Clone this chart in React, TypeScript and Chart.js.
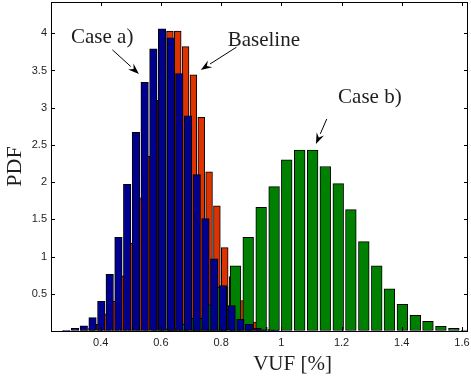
import React, { useEffect, useRef } from 'react';
import { Chart, registerables } from 'chart.js';

Chart.register(...registerables);

// ---- data ----
// Case a) (blue)
const caseAX = [0.286, 0.315, 0.344, 0.373, 0.402, 0.430, 0.459, 0.488, 0.517, 0.546, 0.575, 0.604, 0.633, 0.661, 0.690, 0.719, 0.748, 0.777, 0.806, 0.835, 0.864, 0.892, 0.921, 0.950, 0.979];
const caseAY = [0.005, 0.036, 0.07, 0.18, 0.40, 0.76, 1.26, 1.97, 2.67, 3.34, 3.79, 4.06, 3.94, 3.46, 2.89, 2.10, 1.51, 0.97, 0.61, 0.34, 0.157, 0.09, 0.036, 0.015, 0.005];
// Baseline (red)
const baseX = [0.345, 0.371, 0.397, 0.423, 0.449, 0.475, 0.501, 0.527, 0.553, 0.579, 0.604, 0.630, 0.656, 0.682, 0.708, 0.734, 0.760, 0.786, 0.812, 0.838, 0.864, 0.890, 0.916, 0.942, 0.968];
const baseY = [0.01, 0.04, 0.09, 0.23, 0.40, 0.74, 1.18, 1.79, 2.35, 3.10, 3.70, 4.03, 4.03, 3.82, 3.44, 2.87, 2.14, 1.68, 1.12, 0.73, 0.41, 0.22, 0.12, 0.05, 0.02];
// Case b) (green)
const caseBX = [0.592, 0.635, 0.677, 0.720, 0.763, 0.805, 0.848, 0.890, 0.933, 0.976, 1.018, 1.061, 1.104, 1.146, 1.189, 1.231, 1.274, 1.317, 1.359, 1.402, 1.445, 1.487, 1.530, 1.573, 1.615];
const caseBY = [0.01, 0.03, 0.09, 0.17, 0.35, 0.59, 0.875, 1.26, 1.66, 1.94, 2.30, 2.43, 2.43, 2.21, 1.98, 1.63, 1.20, 0.875, 0.567, 0.357, 0.21, 0.13, 0.063, 0.036, 0.012];

const xTicks = [0.4, 0.6, 0.8, 1, 1.2, 1.4, 1.6];
const yTicks = [0, 0.5, 1, 1.5, 2, 2.5, 3, 3.5, 4];
const xLimits = [0.235, 1.62];
const yLimits = [0, 4.42];

const xTitle = 'VUF [%]';
const yTitle = 'PDF';

// annotation labels (data coordinates)
const labels = [
  { text: 'Case a)', at: [0.405, 3.864], from: [0.439, 3.777], to: [0.527, 3.454] },
  { text: 'Baseline', at: [0.942, 3.824], from: [0.851, 3.813], to: [0.7325, 3.508] },
  { text: 'Case b)', at: [1.294, 3.06], from: [1.151, 2.849], to: [1.115, 2.513] },
];

const toPoints = (xs: number[], ys: number[]) => xs.map((x, i) => ({ x, y: ys[i] }));

const SERIF = '"Liberation Serif", "DejaVu Serif", serif';
const SANS = '"Liberation Sans", Arial, sans-serif';
const TEXT = '#1e1e1e';

const framePlugin = {
  id: 'frame',
  afterDatasetsDraw(chart: any) {
    const { ctx, chartArea, scales } = chart;
    const { left, right, top, bottom } = chartArea;
    const x = scales.x;
    const y = scales.y;
    ctx.save();
    ctx.strokeStyle = '#000';
    ctx.lineWidth = 1;
    ctx.beginPath();
    for (const v of xTicks) {
      const px = Math.round(x.getPixelForValue(v)) + 0.5;
      ctx.moveTo(px, bottom);
      ctx.lineTo(px, bottom - 4);
      ctx.moveTo(px, top);
      ctx.lineTo(px, top + 4);
    }
    for (const v of yTicks) {
      const py = Math.round(y.getPixelForValue(v)) + 0.5;
      ctx.moveTo(left, py);
      ctx.lineTo(left + 4, py);
      ctx.moveTo(right, py);
      ctx.lineTo(right - 4, py);
    }
    ctx.stroke();
    ctx.strokeRect(left + 0.5, top + 0.5, right - left - 1, bottom - top);

    // annotations
    ctx.fillStyle = TEXT;
    ctx.font = `21px ${SERIF}`;
    ctx.textAlign = 'center';
    ctx.textBaseline = 'alphabetic';
    for (const l of labels) {
      ctx.fillText(l.text, x.getPixelForValue(l.at[0]), y.getPixelForValue(l.at[1]));
      const x0 = x.getPixelForValue(l.from[0]);
      const y0 = y.getPixelForValue(l.from[1]);
      const x1 = x.getPixelForValue(l.to[0]);
      const y1 = y.getPixelForValue(l.to[1]);
      const ang = Math.atan2(y1 - y0, x1 - x0);
      const hl = 11;
      const hw = 4;
      const bx = x1 - hl * Math.cos(ang);
      const by = y1 - hl * Math.sin(ang);
      ctx.strokeStyle = '#000';
      ctx.lineWidth = 1;
      ctx.beginPath();
      ctx.moveTo(x0, y0);
      ctx.lineTo(bx, by);
      ctx.stroke();
      ctx.fillStyle = '#000';
      ctx.beginPath();
      ctx.moveTo(x1, y1);
      ctx.lineTo(bx + hw * Math.sin(ang), by - hw * Math.cos(ang));
      ctx.lineTo(bx + 0.35 * hl * Math.cos(ang), by + 0.35 * hl * Math.sin(ang));
      ctx.lineTo(bx - hw * Math.sin(ang), by + hw * Math.cos(ang));
      ctx.closePath();
      ctx.fill();
      ctx.fillStyle = TEXT;
    }

    // x-axis title
    ctx.font = `21px ${SERIF}`;
    ctx.fillText(xTitle, (left + right) / 2 + 33, 370);
    ctx.restore();
  },
};

export default function App() {
  const ref = useRef<HTMLCanvasElement | null>(null);
  useEffect(() => {
    if (!ref.current) return;
    const barCommon = {
      borderColor: '#000000',
      borderWidth: 1,
      borderSkipped: false,
      grouped: false,
    };
    const chart = new Chart(ref.current, {
      type: 'bar',
      data: {
        datasets: [
          { ...barCommon, label: 'Case a)', data: toPoints(caseAX, caseAY), backgroundColor: '#00008f', barThickness: 7.5, order: 1 },
          { ...barCommon, label: 'Case b)', data: toPoints(caseBX, caseBY), backgroundColor: '#008000', barThickness: 10.7, order: 2 },
          { ...barCommon, label: 'Baseline', data: toPoints(baseX, baseY), backgroundColor: '#dd3300', barThickness: 6.8, order: 3 },
        ] as any,
      },
      options: {
        animation: false,
        responsive: false,
        devicePixelRatio: 1,
        datasets: { bar: { grouped: false } } as any,
        layout: { padding: { top: 2, right: 3, left: 0, bottom: 0 } },
        plugins: { legend: { display: false }, tooltip: { enabled: false } },
        scales: {
          x: {
            type: 'linear',
            min: xLimits[0],
            max: xLimits[1],
            offset: false,
            grid: { display: true, drawOnChartArea: false, drawTicks: false },
            border: { display: false },
            afterBuildTicks: (s: any) => { s.ticks = xTicks.map((v) => ({ value: v })); },
            afterFit: (s: any) => {
              s.height = 49;
              s.paddingLeft = 0;
              s.paddingRight = 0;
              s.paddingTop = 0;
              s.paddingBottom = 0;
            },
            ticks: {
              padding: 5,
              maxRotation: 0,
              autoSkip: false,
              color: TEXT,
              font: { family: SANS, size: 11 },
              callback: (v: any) => String(Number(v)),
            },
          },
          y: {
            type: 'linear',
            min: yLimits[0],
            max: yLimits[1],
            grid: { display: true, drawOnChartArea: false, drawTicks: false },
            border: { display: false },
            afterBuildTicks: (s: any) => { s.ticks = yTicks.map((v) => ({ value: v })); },
            afterFit: (s: any) => {
              s.width = 51;
              s.paddingLeft = 0;
              s.paddingRight = 0;
              s.paddingTop = 0;
              s.paddingBottom = 0;
            },
            ticks: {
              padding: 4,
              autoSkip: false,
              color: TEXT,
              font: { family: SANS, size: 11 },
              callback: (v: any) => (Number(v) === 0 ? '' : String(Number(v))),
            },
            title: {
              display: true,
              text: yTitle,
              color: TEXT,
              font: { family: SERIF, size: 22, weight: 'normal' },
              padding: { top: 2, bottom: 0 },
            },
          },
        },
      },
      plugins: [framePlugin],
    } as any);
    return () => chart.destroy();
  }, []);
  return (
    <div style={{ position: 'absolute', left: 0, top: 0, width: 471, height: 380, background: '#fff' }}>
      <canvas ref={ref} width={471} height={380} />
    </div>
  );
}
